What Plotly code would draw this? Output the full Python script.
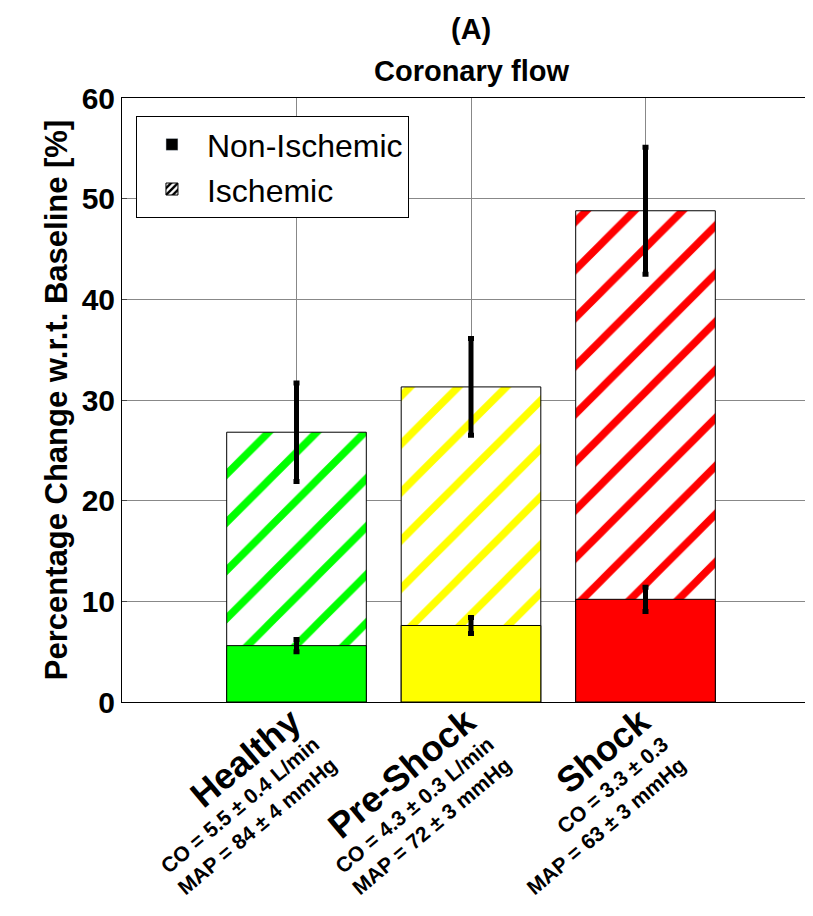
import plotly.graph_objects as go

groups = ["Healthy", "Pre-Shock", "Shock"]
co = ["CO = 5.5 ± 0.4 L/min", "CO = 4.3 ± 0.3 L/min", "CO = 3.3 ± 0.3"]
mapv = ["MAP = 84 ± 4 mmHg", "MAP = 72 ± 3 mmHg", "MAP = 63 ± 3 mmHg"]
colors = ["#00ff00", "#ffff00", "#ff0000"]
non_isch = [5.6, 7.6, 10.2]
non_isch_err = [0.6, 0.8, 1.2]
isch = [26.8, 31.3, 48.8]
isch_err = [4.9, 4.8, 6.3]
xpos = [1, 2, 3]

fig = go.Figure()
for i in range(3):
    fig.add_bar(x=[xpos[i]], y=[isch[i]], width=0.8, showlegend=False,
                marker=dict(color="white", line=dict(color="black", width=1),
                            pattern=dict(shape="/", fgcolor=colors[i], bgcolor="white",
                                         size=34, solidity=0.22, fgopacity=1, fillmode="replace")),
                error_y=dict(type="data", array=[isch_err[i]], color="black", thickness=5, width=3))
for i in range(3):
    fig.add_bar(x=[xpos[i]], y=[non_isch[i]], width=0.8, showlegend=False,
                marker=dict(color=colors[i], line=dict(color="black", width=1)),
                error_y=dict(type="data", array=[non_isch_err[i]], color="black", thickness=5, width=3))
fig.add_bar(x=[None], y=[None], name="Non-Ischemic", marker=dict(color="black"))
fig.add_bar(x=[None], y=[None], name="Ischemic",
            marker=dict(color="white", line=dict(color="black", width=1),
                        pattern=dict(shape="/", fgcolor="black", bgcolor="white", solidity=0.5,
                                     size=6, fgopacity=1, fillmode="replace")))

ticktext = [f"<b><span style='font-size:36px'>{g}</span><br>{c}<br>{m}</b>" for g, c, m in zip(groups, co, mapv)]

fig.update_layout(
    width=813, height=916, barmode="overlay", plot_bgcolor="white", paper_bgcolor="white",
    margin=dict(l=114, r=1, t=90, b=222),
    font=dict(family="Liberation Sans, Arial", color="black"),
    legend=dict(x=0.02, y=0.97, xanchor="left", yanchor="top", bgcolor="white", itemwidth=60,
                bordercolor="black", borderwidth=1, font=dict(size=32)),
    xaxis=dict(range=[0, 4], tickvals=xpos, ticktext=ticktext, tickangle=-40, automargin=False,
               tickfont=dict(size=21), showgrid=True, gridcolor="#888", gridwidth=0.5,
               showline=True, linecolor="black", mirror=True, ticks=""),
    yaxis=dict(range=[0, 60], dtick=10, tickfont=dict(size=30), showgrid=True, gridcolor="#888",
               gridwidth=0.5, showline=True, linecolor="black", mirror=True, zeroline=False,
               ticks="inside", ticklen=5, automargin=False,
               title=dict(text="<b>Percentage Change w.r.t. Baseline [%]</b>", font=dict(size=31), standoff=4)),
    annotations=[
        dict(text="<b>(A)</b>", x=0.5, y=1.115, xref="paper", yref="paper", showarrow=False,
             font=dict(size=29), yanchor="middle"),
        dict(text="<b>Coronary flow</b>", x=0.5, y=1.045, xref="paper", yref="paper", showarrow=False,
             font=dict(size=29), yanchor="middle"),
    ],
)
fig.update_yaxes(tickprefix="<b>", ticksuffix="</b>")
fig.write_html("out.html")
